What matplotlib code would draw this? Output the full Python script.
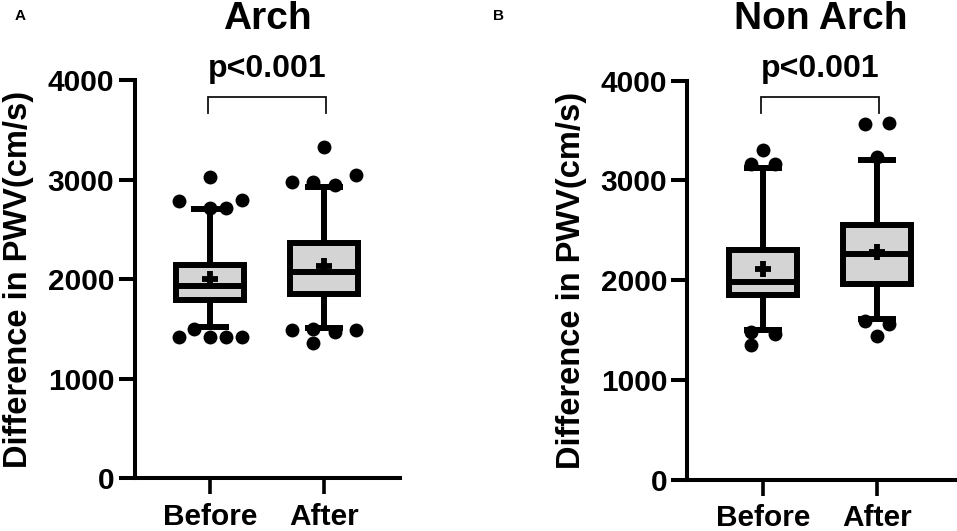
import matplotlib
matplotlib.use('Agg')
import matplotlib.pyplot as plt

plt.rcParams['font.family'] = ['Liberation Sans', 'DejaVu Sans']
plt.rcParams['font.weight'] = 'bold'

groups = ['Before', 'After']
yticks = [0, 1000, 2000, 3000, 4000]
ylabel = 'Difference in PWV(cm/s)'

# whisker low, q1, median, q3, whisker high, mean
arch_before = [1522, 1795, 1933, 2141, 2707, 2003]
arch_after = [1515, 1852, 2071, 2364, 2929, 2135]
non_before = [1498, 1848, 1985, 2306, 3124, 2109]
non_after = [1615, 1962, 2266, 2553, 3204, 2283]

# outliers as (offset from the box centre, value)
arch_before_pts = [(-0.278, 2784), (0.278, 2795), (0, 3027), (0, 2717), (0.14, 2717),
                   (-0.14, 1498), (-0.278, 1424), (0, 1424), (0.14, 1424), (0.278, 1424)]
arch_after_pts = [(0, 3330), (-0.28, 2980), (-0.094, 2980), (0.094, 2946), (0.28, 3050),
                  (-0.28, 1488), (-0.094, 1505), (0.094, 1471), (0.28, 1488), (-0.094, 1360)]
non_before_pts = [(0, 3301), (-0.105, 3161), (0.105, 3161),
                  (-0.105, 1484), (0.105, 1464), (-0.105, 1354)]
non_after_pts = [(-0.105, 3565), (0.105, 3572), (0, 3238),
                 (-0.105, 1595), (0.105, 1564), (0, 1444)]

W, H = 957, 531
LW = 4.3  # about 6 px


def stats(row, name):
    return dict(whislo=row[0], q1=row[1], med=row[2], q3=row[3], whishi=row[4],
                mean=row[5], fliers=[], label=name)


def panel(box, xlim, rows, pts, title, bracket, ptext_y, label_pad):
    left, right, top, bottom = box
    ax = plt.gcf().add_axes([left / W, 1 - bottom / H, (right - left) / W, (bottom - top) / H])
    line = dict(color='black', linewidth=LW, solid_capstyle='butt')
    ax.bxp([stats(r, n) for r, n in zip(rows, groups)], positions=[1, 2], widths=0.6,
           capwidths=0.33, patch_artist=True, showmeans=True, showfliers=False,
           boxprops=dict(facecolor='#d4d4d4', edgecolor='black', linewidth=LW, joinstyle='miter'),
           whiskerprops=line, capprops=line, medianprops=line,
           meanprops=dict(marker='+', markersize=11.5, markeredgewidth=4.2, color='black',
                          markeredgecolor='black'))
    for i, group in enumerate(pts):
        xs = [i + 1 + p[0] for p in group]
        ys = [p[1] for p in group]
        ax.scatter(xs, ys, s=100, color='black', linewidths=0, zorder=5, clip_on=False)

    ax.set_xlim(*xlim)
    ax.set_ylim(0, 4000)
    ax.set_xticks([1, 2], groups)
    ax.set_yticks(yticks)
    ax.spines[['top', 'right']].set_visible(False)
    ax.spines[['left', 'bottom']].set_linewidth(2.9)
    ax.tick_params(axis='y', length=11.5, width=2.9, labelsize=21.5, pad=3)
    ax.tick_params(axis='x', length=11.5, width=2.6, labelsize=21.5, pad=6)
    ax.set_ylabel(ylabel, fontsize=23.5, fontweight='bold', labelpad=label_pad)
    ax.set_title(title, fontsize=28, fontweight='bold', pad=37)

    # significance bracket
    x0, x1, y0, y1 = bracket
    ax.plot([x0, x0, x1, x1], [y1, y0, y0, y1], color='#111111', lw=1.3, clip_on=False,
            solid_joinstyle='miter')
    ax.text((x0 + x1) / 2, ptext_y, 'p<0.001', fontsize=23, fontweight='bold',
            ha='center', va='baseline', clip_on=False)
    return ax


fig = plt.figure(figsize=(W / 100, H / 100), dpi=100)

panel((134.5, 400, 80.5, 478.3), (0.335, 2.67), [arch_before, arch_after],
      [arch_before_pts, arch_after_pts], 'Arch', (0.985, 2.02, 3839, 3678), 4037, 10)
panel((687.3, 955, 80.5, 479.7), (0.336, 2.684), [non_before, non_after],
      [non_before_pts, non_after_pts], 'Non Arch', (0.985, 2.02, 3832, 3674), 4035, 10)

fig.text(15 / W, 1 - 20 / H, 'A', fontsize=11, fontweight='bold')
fig.text(493 / W, 1 - 20 / H, 'B', fontsize=11, fontweight='bold')

fig.savefig('out.png', dpi=100)
